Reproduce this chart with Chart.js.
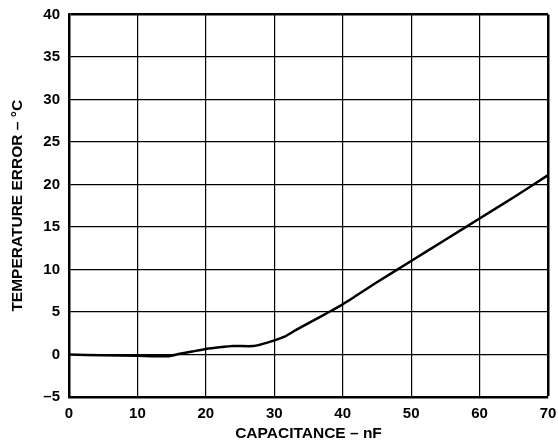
<!DOCTYPE html>
<html>
<head>
<meta charset="utf-8">
<script src="https://cdn.jsdelivr.net/npm/chart.js@4.4.1/dist/chart.umd.min.js"></script>
<style>
  html, body { margin: 0; padding: 0; background: #fff; }
  #wrap { width: 558px; height: 441px; }
</style>
</head>
<body>
<div id="wrap"><canvas id="js--chart" width="558" height="441"></canvas></div>
<script>
// capacitance in nF, error in degrees C
const capacitance = [0, 5, 10, 14.5, 16, 18, 20, 22, 24, 27, 29, 31.5, 33, 35, 38, 40, 45, 50, 55, 60, 65, 70];
const tempError = [0, -0.1, -0.15, -0.2, 0.05, 0.35, 0.65, 0.85, 1.0, 1.0, 1.4, 2.1, 2.8, 3.7, 5.0, 5.9, 8.5, 11, 13.5, 16, 18.5, 21.1];

const xTicks = [0, 10, 20, 30, 40, 50, 60, 70];
const yTicks = [-5, 0, 5, 10, 15, 20, 25, 30, 35, 40];

const points = capacitance.map((c, i) => ({ x: c, y: tempError[i] }));

const tickFont = { family: 'Liberation Sans, Arial, sans-serif', size: 15, weight: 'bold' };
const titleFont = { family: 'Liberation Sans, Arial, sans-serif', size: 15.5, weight: 'bold', lineHeight: 1 };

const config = {
    type: 'line',
    data: {
        datasets: [{
            data: points,
            borderColor: '#000',
            borderWidth: 2.5,
            pointRadius: 0,
            tension: 0.2,
            fill: false
        }]
    },
    options: {
        responsive: false,
        animation: false,
        layout: { padding: 0 },
        plugins: { legend: { display: false }, tooltip: { enabled: false } },
        scales: {
            x: {
                type: 'linear',
                min: 0,
                max: 70,
                afterBuildTicks: (scale) => { scale.ticks = xTicks.map(v => ({ value: v })); },
                afterFit: (scale) => {
                    scale.height = 44;
                    scale.paddingRight = 10;
                    scale.paddingLeft = 0;
                },
                ticks: { color: '#000', font: tickFont, padding: 8, maxRotation: 0 },
                grid: {
                    color: '#000',
                    drawTicks: false,
                    lineWidth: (ctx) => ctx.tick && ctx.tick.value === 70 ? 2.5 : 1.2
                },
                border: { color: '#000', width: 2.5 },
                title: {
                    display: true,
                    text: 'CAPACITANCE – nF',
                    color: '#000',
                    font: titleFont,
                    padding: { top: 0, bottom: 0 }
                }
            },
            y: {
                type: 'linear',
                min: -5,
                max: 40,
                afterBuildTicks: (scale) => { scale.ticks = yTicks.map(v => ({ value: v })); },
                afterFit: (scale) => {
                    scale.width = 69;
                    scale.paddingTop = 14.5;
                    scale.paddingBottom = 0;
                },
                ticks: {
                    color: '#000',
                    font: tickFont,
                    padding: 9,
                    callback: (v) => String(v).replace('-', '–')
                },
                grid: {
                    color: '#000',
                    drawTicks: false,
                    lineWidth: (ctx) => ctx.tick && ctx.tick.value === 40 ? 2.5 : 1.2
                },
                border: { color: '#000', width: 2.5 },
                title: {
                    display: true,
                    text: 'TEMPERATURE ERROR – °C',
                    color: '#000',
                    font: titleFont,
                    padding: { top: 10, bottom: 0 }
                }
            }
        }
    }
};

new Chart(document.getElementById("js--chart"), config);
</script>
</body>
</html>
